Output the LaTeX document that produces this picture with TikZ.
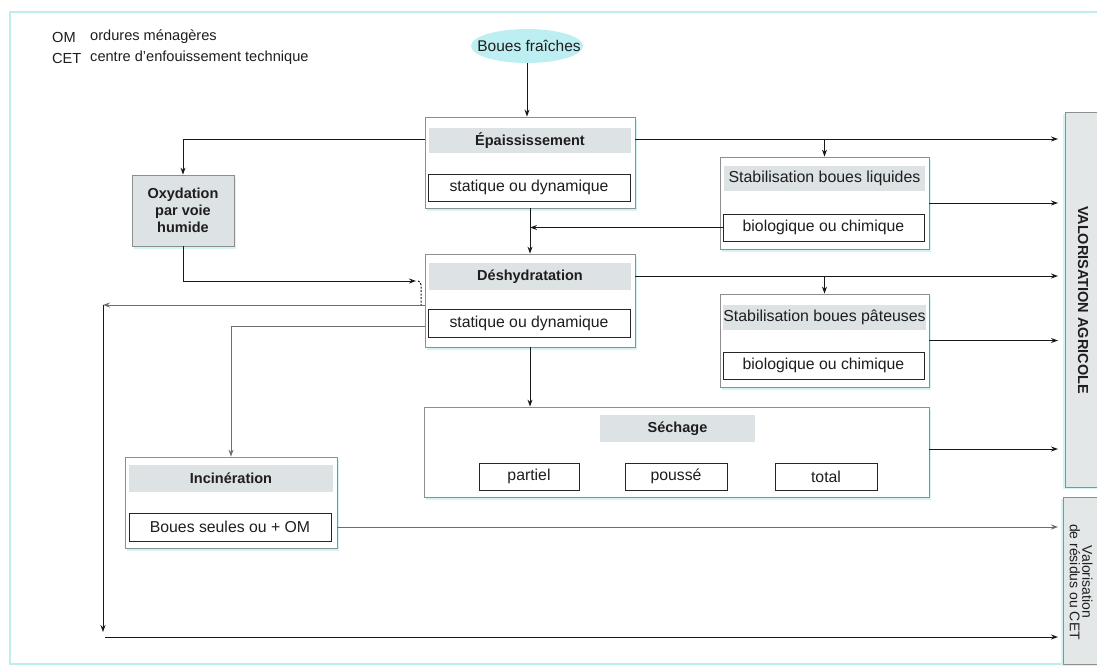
\documentclass[tikz,border=0pt]{standalone}
\usepackage{fontspec}
\setmainfont{Liberation Sans}
\usetikzlibrary{arrows.meta,shadows,shapes.geometric}
\definecolor{framec}{HTML}{BFEDEE}
\definecolor{boxline}{HTML}{8E8E8E}
\definecolor{headc}{HTML}{DDE2E5}
\definecolor{glow}{HTML}{D2F4F4}
\definecolor{ellc}{HTML}{BCEEF2}
\definecolor{valfill}{HTML}{E4E7E8}
\definecolor{txt}{HTML}{1E1E1E}
\definecolor{greyline}{HTML}{6E6E6E}
\begin{document}
\begin{tikzpicture}[x=1pt,y=-1pt,
  font=\fontsize{15.8}{17}\selectfont, text=txt,
  outerbox/.style={draw=boxline, line width=0.8pt, fill=white,
    drop shadow={shadow xshift=2pt, shadow yshift=-3pt, fill=glow, opacity=1},
    inner sep=0pt},
  headband/.style={fill=headc, inner sep=0pt, font=\bfseries\fontsize{14.5}{16}\selectfont},
  innerbox/.style={draw=black!85, line width=0.9pt, fill=white, inner sep=0pt},
  valbox/.style={draw=boxline, line width=0.8pt, fill=valfill,
    drop shadow={shadow xshift=-2pt, shadow yshift=-2pt, fill=glow, opacity=1}},
  arr/.style={draw=black!90, line width=1pt, -{Stealth[length=7pt,width=5pt]}},
  ln/.style={draw=black!90, line width=1pt},
  garr/.style={draw=greyline, line width=1pt, -{Stealth[length=7pt,width=5pt]}},
  legend/.style={anchor=west, inner sep=0pt, font=\fontsize{14.6}{16}\selectfont},
]
\clip (0,0) rectangle (1097,670);
\fill[white] (0,0) rectangle (1097,670);
\draw[framec, line width=1.5pt] (10,12) rectangle (1120,664);

% legend
\node[legend] (lom) at (52,37) {OM};
\node[legend] (lomt) at (90,37) {ordures ménagères};
\node[legend] (lcet) at (52,58) {CET};
\node[legend] (lcett) at (90,58) {centre d’enfouissement technique};

% Boues fraiches
\node[ellipse, fill=ellc, minimum width=112pt, minimum height=34pt, inner sep=0pt] (bf) at (527,46) {};
\node[font=\fontsize{15.5}{17}\selectfont] (bft) at (529,46) {Boues fraîches};

% valorisation boxes
\node[valbox, minimum width=44pt, minimum height=375pt, inner sep=0pt] (valag) at (1087,299.5) {};
\node[rotate=-90, font=\bfseries\fontsize{14.5}{16}\selectfont] (valagt) at (1083,300) {VALORISATION AGRICOLE};
\node[valbox, minimum width=46pt, minimum height=167pt, inner sep=0pt] (valres) at (1086,580.5) {};
\node[rotate=-90, align=center, font=\fontsize{14}{12.5}\selectfont] (valrest) at (1081,582) {Valorisation\\de résidus ou CET};

% Epaississement
\node[outerbox, minimum width=210pt, minimum height=91pt] (epa) at (530,162.5) {};
\node[headband, minimum width=202pt, minimum height=25pt] (epah) at (530,140.5) {Épaississement};
\node[innerbox, minimum width=202pt, minimum height=27pt] (epai) at (529,187.5) {statique ou dynamique};

% Deshydratation
\node[outerbox, minimum width=210pt, minimum height=93pt] (des) at (530,300.5) {};
\node[headband, minimum width=202pt, minimum height=27pt] (desh) at (530,276.5) {Déshydratation};
\node[innerbox, minimum width=202pt, minimum height=28pt] (desi) at (529,323) {statique ou dynamique};

% Stabilisation liquides
\node[outerbox, minimum width=209pt, minimum height=92pt] (stl) at (824.5,203) {};
\node[headband, minimum width=201pt, minimum height=25pt, font=\fontsize{15.9}{17}\selectfont] (stlh) at (824.5,178.5) {Stabilisation boues liquides};
\node[innerbox, minimum width=201pt, minimum height=27pt] (stli) at (823.5,227.5) {biologique ou chimique};

% Stabilisation pateuses
\node[outerbox, minimum width=209pt, minimum height=93pt] (stp) at (824.5,340.5) {};
\node[headband, minimum width=201pt, minimum height=25pt, font=\fontsize{15.9}{17}\selectfont] (stph) at (824.5,317) {Stabilisation boues pâteuses};
\node[innerbox, minimum width=201pt, minimum height=27pt] (stpi) at (823.5,365.5) {biologique ou chimique};

% Oxydation
\node[outerbox, fill=headc, minimum width=102pt, minimum height=71pt, align=center,
      font=\bfseries\fontsize{14.5}{17}\selectfont] (oxy) at (183,210.5) {Oxydation\\par voie\\humide};

% Sechage
\node[outerbox, minimum width=505pt, minimum height=90pt] (sec) at (676.5,452) {};
\node[headband, minimum width=155pt, minimum height=27pt] (sech) at (677.5,428.5) {Séchage};
\node[innerbox, minimum width=100pt, minimum height=27pt] (secp) at (529,476.5) {partiel};
\node[innerbox, minimum width=102pt, minimum height=27pt] (secpo) at (676,476.5) {poussé};
\node[innerbox, minimum width=102pt, minimum height=27pt] (sect) at (826,476.5) {total};

% Incineration
\node[outerbox, minimum width=212pt, minimum height=91pt] (inc) at (231,502.5) {};
\node[headband, minimum width=204pt, minimum height=27pt] (inch) at (231,478.5) {Incinération};
\node[innerbox, minimum width=202pt, minimum height=28pt] (inci) at (230,527) {Boues seules ou + OM};

% coordinates
\coordinate (vx) at (1058,0);
\coordinate (lx) at (103,0);

% connectors
\draw[arr] (bf.south) -- (bf.south |- epa.north);
\draw[arr] (epa.east |- 0,139) -- (vx |- 0,139);
\draw[arr] (824.5,139) -- (stl.north);
\draw[arr] (epa.west |- 0,139) -- (oxy.north |- 0,139) -- (oxy.north);
\draw[arr] (epa.south) -- (des.north);
\draw[arr] (stli.west) -- (epa.south |- stli.west);
\draw[arr] (stl.east) -- (vx |- stl.east);
\draw[arr] (des.east |- 0,276) -- (vx |- 0,276);
\draw[arr] (824.5,276) -- (stp.north);
\draw[arr] (stp.east) -- (vx |- stp.east);
\draw[arr] (sec.east |- 0,449) -- (vx |- 0,449);
\draw[arr] (des.south) -- (des.south |- sec.north);
\draw[arr] (oxy.south) -- (oxy.south |- 0,281) -- (416,281);
\draw[ln, dash pattern=on 2pt off 1.5pt] (418,281) to[out=0,in=90] (421,285) -- (421,305);
\draw[garr] (des.west |- 0,305) -- (lx |- 0,305);
\draw[arr] (lx |- 0,305) -- (lx |- 0,632);
\draw[arr] (105,637) -- (vx |- 0,637);
\draw[garr] (des.west |- 0,326) -- (inc.north |- 0,326) -- (inc.north);
\draw[garr] (inc.east |- inci.east) -- (vx |- inci.east);
\end{tikzpicture}
\end{document}
